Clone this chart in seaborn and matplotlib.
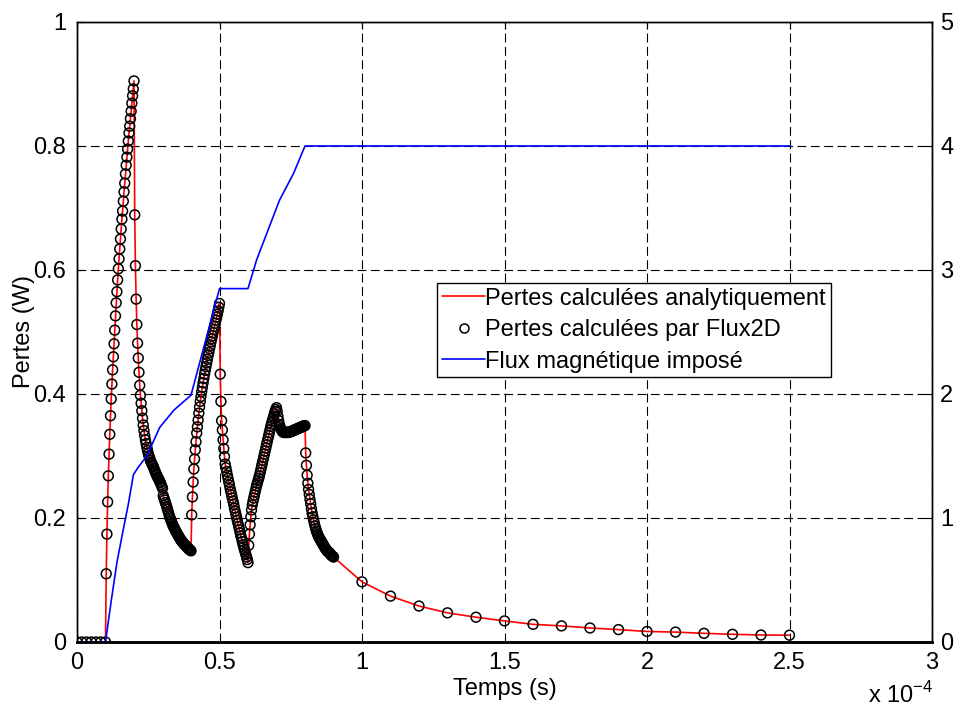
import numpy as np
import pandas as pd
import matplotlib
matplotlib.use("Agg")
import matplotlib.pyplot as plt
import seaborn as sns
from matplotlib.lines import Line2D

# ------------------------------------------------------------------------
# Data (time in units of 1e-4 s, losses in W, flux on right axis)
# ------------------------------------------------------------------------
# Flux2D sampling: each segment = (t_start, t_end) + values
seg_a_span = (0.0, 0.1)
seg_a = [0, 0, 0, 0, 0, 0, 0]

seg_b_span = (0.1025, 0.2)
seg_b = [0.110, 0.174, 0.226, 0.268, 0.303, 0.335, 0.365, 0.392, 0.416, 0.439,
         0.460, 0.481, 0.503, 0.526, 0.547, 0.565, 0.584, 0.602, 0.618, 0.634,
         0.650, 0.666, 0.682, 0.695, 0.711, 0.726, 0.740, 0.755, 0.769, 0.782,
         0.795, 0.808, 0.821, 0.832, 0.844, 0.856, 0.869, 0.881, 0.892, 0.905]

seg_c_span = (0.2025, 0.4)
seg_c = [0.689, 0.607, 0.553, 0.512, 0.482, 0.458, 0.435, 0.414, 0.398, 0.385,
         0.373, 0.361, 0.350, 0.341, 0.333, 0.326, 0.320, 0.314, 0.309, 0.304,
         0.300, 0.297, 0.293, 0.290, 0.288, 0.285, 0.283, 0.280, 0.277, 0.274,
         0.271, 0.269, 0.266, 0.264, 0.262, 0.259, 0.257, 0.254, 0.251, 0.248,
         0.236, 0.232, 0.229, 0.225, 0.222, 0.218, 0.214, 0.210, 0.206, 0.202,
         0.199, 0.196, 0.193, 0.190, 0.187, 0.185, 0.183, 0.180, 0.178, 0.176,
         0.174, 0.172, 0.170, 0.168, 0.166, 0.164, 0.163, 0.161, 0.160, 0.158,
         0.157, 0.156, 0.155, 0.154, 0.152, 0.151, 0.150, 0.149, 0.148, 0.147]

seg_d_span = (0.4025, 0.5)
seg_d = [0.205, 0.234, 0.258, 0.279, 0.295, 0.310, 0.323, 0.337, 0.347, 0.358,
         0.369, 0.379, 0.388, 0.396, 0.404, 0.411, 0.418, 0.425, 0.432, 0.438,
         0.444, 0.450, 0.456, 0.462, 0.467, 0.473, 0.478, 0.484, 0.489, 0.494,
         0.499, 0.504, 0.509, 0.514, 0.519, 0.524, 0.529, 0.534, 0.540, 0.546]

seg_e_span = (0.5025, 0.6)
seg_e = [0.432, 0.388, 0.357, 0.342, 0.326, 0.312, 0.299, 0.287, 0.281, 0.275,
         0.269, 0.264, 0.258, 0.253, 0.247, 0.242, 0.237, 0.232, 0.227, 0.222,
         0.216, 0.211, 0.206, 0.201, 0.196, 0.191, 0.186, 0.181, 0.176, 0.171,
         0.167, 0.162, 0.157, 0.153, 0.149, 0.145, 0.141, 0.137, 0.133, 0.128]

seg_f_span = (0.6025, 0.8)
seg_f = [0.156, 0.174, 0.189, 0.202, 0.213, 0.221, 0.227, 0.232, 0.237, 0.242,
         0.247, 0.252, 0.256, 0.260, 0.264, 0.268, 0.273, 0.278, 0.283, 0.288,
         0.293, 0.298, 0.303, 0.308, 0.313, 0.318, 0.323, 0.328, 0.333, 0.338,
         0.343, 0.348, 0.352, 0.356, 0.360, 0.364, 0.368, 0.372, 0.375, 0.378,
         0.372, 0.364, 0.357, 0.351, 0.347, 0.344, 0.342, 0.340, 0.339, 0.338,
         0.338, 0.338, 0.338, 0.338, 0.338, 0.338, 0.338, 0.339, 0.339, 0.339,
         0.340, 0.340, 0.341, 0.341, 0.342, 0.342, 0.343, 0.343, 0.344, 0.344,
         0.345, 0.345, 0.346, 0.346, 0.347, 0.347, 0.348, 0.348, 0.349, 0.349]

seg_g_span = (0.8025, 0.9)
seg_g = [0.305, 0.285, 0.269, 0.256, 0.246, 0.238, 0.230, 0.223, 0.215, 0.208,
         0.202, 0.197, 0.192, 0.187, 0.183, 0.179, 0.176, 0.173, 0.170, 0.168,
         0.166, 0.164, 0.162, 0.160, 0.158, 0.156, 0.154, 0.152, 0.150, 0.149,
         0.147, 0.146, 0.145, 0.144, 0.143, 0.141, 0.140, 0.139, 0.138, 0.137]

seg_h_span = (1.0, 2.5)
seg_h = [0.097, 0.074, 0.058, 0.047, 0.040, 0.034, 0.0285, 0.026,
         0.0226, 0.020, 0.017, 0.016, 0.014, 0.0124, 0.0113, 0.011]

# Imposed magnetic flux (right axis)
flux_t = [0, 0.1, 0.12, 0.14, 0.16, 0.18, 0.198, 0.215, 0.245, 0.29, 0.34,
          0.40, 0.50, 0.60, 0.63, 0.68, 0.71, 0.76, 0.80, 2.5]
flux_v = [0, 0, 0.33, 0.64, 0.88, 1.11, 1.35, 1.41, 1.50, 1.73, 1.87,
          1.99, 2.85, 2.85, 3.08, 3.38, 3.56, 3.78, 4.0, 4.0]

x_ticks = [0, 0.5, 1, 1.5, 2, 2.5, 3]
x_labels = ["0", "0.5", "1", "1.5", "2", "2.5", "3"]
y_ticks = [0, 0.2, 0.4, 0.6, 0.8, 1]
y_labels = ["0", "0.2", "0.4", "0.6", "0.8", "1"]
y2_ticks = [0, 1, 2, 3, 4, 5]

legend_labels = ["Pertes calculées analytiquement",
                 "Pertes calculées par Flux2D",
                 "Flux magnétique imposé"]

# ------------------------------------------------------------------------
# Build the loss table
# ------------------------------------------------------------------------
segments = [(seg_a_span, seg_a), (seg_b_span, seg_b), (seg_c_span, seg_c),
            (seg_d_span, seg_d), (seg_e_span, seg_e), (seg_f_span, seg_f),
            (seg_g_span, seg_g), (seg_h_span, seg_h)]
parts = []
for (t0, t1), vals in segments:
    parts.append(pd.DataFrame({"t": np.linspace(t0, t1, len(vals)), "p": vals}))
pertes = pd.concat(parts, ignore_index=True)
flux = pd.DataFrame({"t": flux_t, "phi": flux_v})

# ------------------------------------------------------------------------
# Plot
# ------------------------------------------------------------------------
sns.set_style("white")
plt.rcParams["font.family"] = ["Liberation Sans", "DejaVu Sans"]
plt.rcParams["mathtext.fontset"] = "custom"
plt.rcParams["mathtext.rm"] = "Liberation Sans"
plt.rcParams["text.color"] = "black"
plt.rcParams["axes.labelcolor"] = "black"

fig = plt.figure(figsize=(9.69, 7.08), dpi=100)
ax = fig.add_axes([77 / 969, 1 - 642 / 708, (932 - 77) / 969, (642 - 22) / 708])
ax2 = ax.twinx()

sns.lineplot(data=pertes, x="t", y="p", ax=ax, color="red", lw=1.2,
             sort=False, estimator=None, zorder=2)
sns.scatterplot(data=pertes, x="t", y="p", ax=ax, marker="o", s=50,
                facecolor="none", edgecolor="black", linewidth=1.1, zorder=3)
sns.lineplot(data=flux, x="t", y="phi", ax=ax2, color="blue", lw=1.2,
             sort=False, estimator=None)

ax.set_xlim(0, 3)
ax.set_ylim(0, 1)
ax2.set_ylim(0, 5)
ax.set_xticks(x_ticks)
ax.set_xticklabels(x_labels)
ax.set_yticks(y_ticks)
ax.set_yticklabels(y_labels)
ax2.set_yticks(y2_ticks)
ax2.set_yticklabels([str(v) for v in y2_ticks])

ax.grid(True, color="black", linestyle=(0, (8, 4)), lw=0.8)
ax.set_axisbelow(True)
ax2.grid(False)

for a in (ax, ax2):
    for side in ("top", "left", "right"):
        a.spines[side].set_color("black")
        a.spines[side].set_linewidth(1.0)
    a.spines["bottom"].set_color("black")
    a.spines["bottom"].set_linewidth(1.8)

ax.tick_params(axis="both", direction="in", length=5, width=0.8,
               labelsize=17, colors="black")
ax.tick_params(axis="x", pad=7, top=True)
ax.tick_params(axis="y", pad=8)
ax2.tick_params(axis="y", direction="in", length=5, width=0.8,
                labelsize=17, pad=6, colors="black")

ax.set_xlabel("Temps (s)", fontsize=17, labelpad=3)
ax.set_ylabel("Pertes (W)", fontsize=17, labelpad=-1.5)
ax2.set_ylabel("")

fig.text(933 / 969, 5 / 708, r"x 10$^{\mathregular{-4}}$", ha="right",
         va="baseline", fontsize=17)

handles = [Line2D([], [], color="red", lw=1.2),
           Line2D([], [], marker="o", ls="", mfc="none", mec="black", ms=6.5, mew=1.1),
           Line2D([], [], color="blue", lw=1.2)]
leg = ax2.legend(handles, legend_labels, loc="upper left",
                 bbox_to_anchor=(437 / 969, 1 - 283 / 708),
                 bbox_transform=fig.transFigure, fontsize=17, frameon=True,
                 fancybox=False, framealpha=1, edgecolor="black",
                 handlelength=1.85, handletextpad=0.0, borderpad=0.2,
                 labelspacing=0.4, borderaxespad=0)
leg.get_frame().set_linewidth(1.0)

plt.savefig("out.png", dpi=100)
plt.close()
